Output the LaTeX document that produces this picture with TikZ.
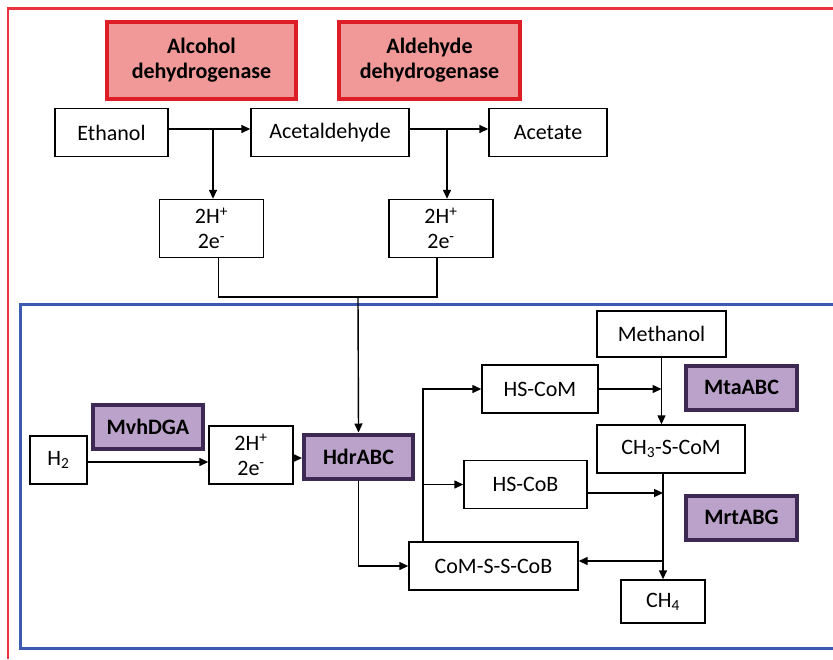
\documentclass[tikz,border=0pt]{standalone}
\usepackage{fontspec}
\setmainfont{Carlito}
\usetikzlibrary{arrows.meta, positioning, calc}
\definecolor{enzred}{RGB}{241,153,153}
\definecolor{enzredline}{RGB}{222,30,38}
\definecolor{enzpurple}{RGB}{186,162,202}
\definecolor{enzpurpleline}{RGB}{62,40,84}
\definecolor{framered}{RGB}{232,52,60}
\definecolor{frameblue}{RGB}{62,90,176}

\begin{document}
\begin{tikzpicture}[x=1pt, y=-1pt,
  chem/.style={draw, line width=1.4pt, fill=white, align=center, inner sep=0pt, minimum height=48pt, minimum width=#1, font=\fontsize{22}{25}\selectfont},
  redenz/.style={draw=enzredline, fill=enzred, line width=4pt, align=center, inner sep=0pt, minimum height=77pt, minimum width=#1, font=\fontsize{22}{25}\selectfont\bfseries},
  purpenz/.style={draw=enzpurpleline, fill=enzpurple, line width=4pt, align=center, inner sep=0pt, minimum height=44pt, minimum width=#1, font=\fontsize{22}{25}\selectfont\bfseries},
  arr/.style={-{Triangle[length=9pt,width=8pt]}, line width=1.4pt},
]
  \useasboundingbox (0,0) rectangle (833,659);
  % frames
  \draw[framered, line width=2.5pt] (833,8.5) -- (8,8.5) -- (8,659);
  \draw[frameblue, line width=3pt] (833,304.5) -- (20,304.5) -- (20,648) -- (833,648);

  % ethanol oxidation
  \node[redenz=189pt] (adh) at (201.5,60.5) {Alcohol\\dehydrogenase};
  \node[redenz=181pt] (aldh) at (429.5,60.5) {Aldehyde\\dehydrogenase};
  \node[chem=113pt] (ethanol) at (111.5,132.5) {Ethanol};
  \node[chem=158pt] (acetald) at (330,132.5) {Acetaldehyde};
  \node[chem=118pt] (acetate) at (548,132.5) {Acetate};
  \node[chem=104pt, minimum height=58pt] (etop) at (211.5,228.5) {2H\textsuperscript{+}\\2e\textsuperscript{-}};
  \node[chem=104pt, minimum height=58pt] (etopr) at (441,228.5) {2H\textsuperscript{+}\\2e\textsuperscript{-}};

  \draw[arr] ([yshift=3.5pt]ethanol.east) coordinate (o1) -- (o1 -| acetald.west);
  \draw[arr] ([yshift=3.5pt]acetald.east) coordinate (o2) -- (o2 -| acetate.west);
  \draw[arr] (o1 -| etop.north) ++(1.5,0) -- ([xshift=1.5pt]etop.north);
  \draw[arr] (o2 -| etopr.north) ++(6,0) -- ([xshift=6pt]etopr.north);

  \coordinate (join) at (358,297);
  \draw[line width=1.4pt] ([xshift=7pt]etop.south) |- (join) -| ([xshift=-4pt]etopr.south);

  % methanogenesis
  \node[chem=57pt] (h2) at (58.5,460) {H\textsubscript{2}};
  \node[purpenz=110pt] (mvh) at (148,427) {MvhDGA};
  \node[chem=84pt, minimum height=58pt] (elow) at (251,455) {2H\textsuperscript{+}\\2e\textsuperscript{-}};
  \node[purpenz=109pt] (hdr) at (358.5,456.5) {HdrABC};
  \node[chem=129pt, minimum height=46pt] (methanol) at (661.5,334) {Methanol};
  \node[chem=116pt] (hscom) at (540,389) {HS-CoM};
  \node[purpenz=111pt] (mta) at (741.5,387.5) {MtaABC};
  \node[chem=148pt] (ch3) at (671,449) {CH\textsubscript{3}-S-CoM};
  \node[chem=123pt] (hscob) at (525.5,484.5) {HS-CoB};
  \node[purpenz=111pt] (mrt) at (741.5,517.5) {MrtABG};
  \node[chem=169pt] (comss) at (493.5,566) {CoM-S-S-CoB};
  \node[chem=84pt, minimum height=43pt] (ch4) at (663,601.5) {CH\textsubscript{4}};

  \draw[arr] (join) -- (hdr.north);
  \draw[arr] ([yshift=-2pt]h2.east) coordinate (o3) -- (o3 -| elow.west);
  \draw[arr] ([yshift=-3pt]elow.east) coordinate (o4) -- (o4 -| hdr.west);
  \draw[arr] (hdr.south) |- (comss.west);
  \coordinate (up) at ([xshift=-70.5pt]comss.north);
  \draw[arr] (up) |- (hscom.west);
  \draw[arr] (up |- hscob.west) -- (hscob.west);
  \draw[arr] (methanol.south) -- (methanol.south |- ch3.north);
  \draw[arr] (hscom.east) -- (hscom.east -| methanol.south);
  \draw[arr] (ch3.south -| ch4.north) -- (ch4.north);
  \draw[arr] ([yshift=-8.5pt]hscob.east) coordinate (o5) -- (o5 -| ch4.north);
  \draw[arr] ([yshift=5pt]comss.east) coordinate (o6) (o6 -| ch4.north) -- (o6);
\end{tikzpicture}
\end{document}
